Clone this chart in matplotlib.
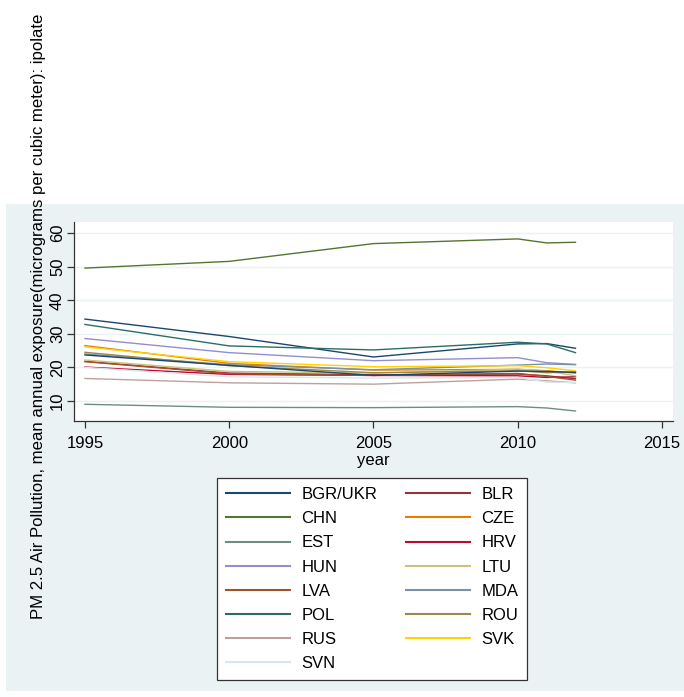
import matplotlib.pyplot as plt
from matplotlib.patches import Rectangle

plt.rcParams['font.family'] = ['Liberation Sans', 'DejaVu Sans']

years = [1995, 2000, 2005, 2010, 2011, 2012]

# PM2.5 mean annual exposure, interpolated between survey years
bgr = [34.4, 29.2, 23.1, 27.0, 27.1, 25.7]
blr = [21.8, 18.3, 17.8, 18.0, 17.5, 16.6]
chn = [49.6, 51.6, 56.9, 58.3, 57.1, 57.3]
cze = [26.5, 21.2, 19.2, 19.4, 19.0, 18.3]
est = [9.0, 8.1, 8.0, 8.3, 7.9, 7.0]
hrv = [20.1, 17.9, 17.6, 17.5, 17.0, 17.2]
hun = [28.6, 24.4, 22.0, 22.9, 21.4, 20.9]
ltu = [22.2, 18.8, 18.3, 19.5, 18.9, 17.5]
lva = [21.7, 18.1, 17.6, 18.2, 17.3, 16.2]
mda = [24.0, 20.8, 19.3, 20.7, 21.0, 20.8]
pol = [32.8, 26.4, 25.2, 27.5, 27.0, 24.4]
rou = [24.5, 20.5, 18.4, 19.0, 18.4, 18.7]
rus = [16.7, 15.4, 15.0, 16.5, 16.0, 15.4]
svk = [26.1, 21.7, 20.2, 20.5, 19.9, 19.0]
svn = [20.0, 17.2, 16.8, 17.0, 15.6, 15.5]
ukr = [23.7, 20.6, 17.6, 18.9, 18.8, 18.5]

series = [bgr, blr, chn, cze, est, hrv, hun, ltu, lva, mda, pol, rou, rus, svk, svn, ukr]
labels = ['BGR/UKR', 'BLR', 'CHN', 'CZE', 'EST', 'HRV', 'HUN', 'LTU', 'LVA', 'MDA',
          'POL', 'ROU', 'RUS', 'SVK', 'SVN', '_nolegend_']

# stata s2color pen colours, the 16th wraps back to the first
colors = ['#1a476f', '#90353b', '#55752f', '#e37e00', '#6e8e84', '#c10534', '#938dd2',
          '#cac27e', '#a0522d', '#7b92a8', '#2d6d66', '#9c8847', '#bfa19c', '#ffd200',
          '#d9e6eb', '#1a476f']

bg = '#eaf2f3'

fig = plt.figure(figsize=(6.84, 6.97), dpi=100)
fig.patches.append(Rectangle((6 / 684, 1 - 691 / 697), 678 / 684, (691 - 204) / 697,
                             transform=fig.transFigure, facecolor=bg, edgecolor='none', zorder=-5))

ax = fig.add_axes([74 / 684, 1 - 421.3 / 697, 598.7 / 684, 199 / 697])
ax.set_zorder(2)
ax.set_facecolor('white')

for vals, lab, col in zip(series, labels, colors):
    ax.plot(years, vals, color=col, linewidth=1.0, label=lab)

ax.set_xlim(1994.62, 2015.37)
ax.set_ylim(3.93, 63.25)
ax.set_xticks([1995, 2000, 2005, 2010, 2015])
ax.set_yticks([10, 20, 30, 40, 50, 60])
ax.yaxis.grid(True, color=bg, linewidth=1.0)
ax.set_axisbelow(True)

for side in ['top', 'right']:
    ax.spines[side].set_visible(False)
for side in ['left', 'bottom']:
    ax.spines[side].set_color('#333333')
    ax.spines[side].set_linewidth(0.9)

ax.tick_params(axis='both', labelsize=12, length=5, width=0.9, color='#333333', direction='out')
ax.tick_params(axis='x', pad=5.5)
ax.tick_params(axis='y', pad=1.5, labelrotation=90)
for t in ax.get_yticklabels():
    t.set_va('center')

ax.set_xlabel('year', fontsize=12, va='center')
ax.xaxis.set_label_coords(0.5, -0.195)
ax.set_ylabel('PM 2.5 Air Pollution, mean annual exposure(micrograms per cubic meter): ipolate',
              fontsize=12.1, va='center')
ax.yaxis.set_label_coords(-0.060, 0.528)

handles, labs = ax.get_legend_handles_labels()
order = list(range(0, len(handles), 2)) + list(range(1, len(handles), 2))
leg = ax.legend([handles[i] for i in order], [labs[i] for i in order], ncol=2,
                loc='upper left', bbox_to_anchor=(217 / 684, 1 - 478 / 697),
                bbox_transform=fig.transFigure, fontsize=12, frameon=True, fancybox=False,
                edgecolor='#333333', framealpha=1, handlelength=3.86, handletextpad=0.66,
                columnspacing=1.72, labelspacing=0.55, borderpad=0.54, borderaxespad=0)
leg.get_frame().set_linewidth(0.9)
for ln in leg.get_lines():
    ln.set_linewidth(1.5)

fig.savefig('out.png', dpi=100)
